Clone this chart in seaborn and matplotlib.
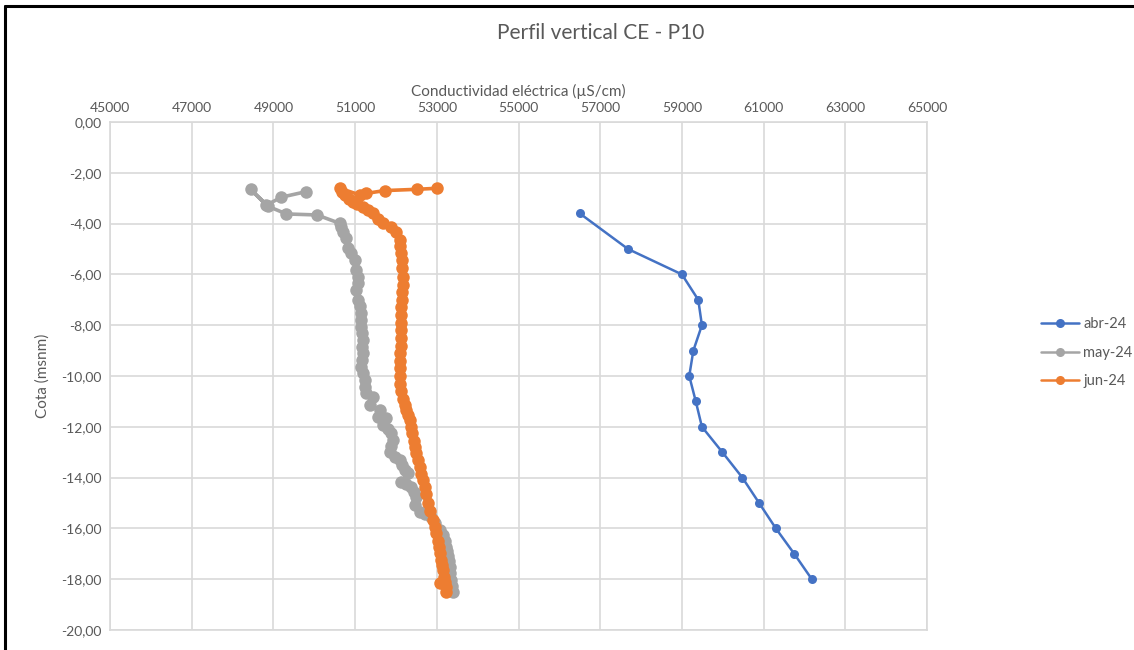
import matplotlib
matplotlib.use("Agg")
import matplotlib.pyplot as plt
import seaborn as sns
import pandas as pd
from matplotlib.lines import Line2D
from matplotlib.ticker import FuncFormatter

# ---- data ----
abr_ce = [56500, 57680, 59000, 59400, 59490, 59280, 59180, 59340, 59490, 59990,
          60480, 60890, 61300, 61750, 62180]
abr_cota = [-3.6, -5.0, -6.0, -7.0, -8.0, -9.0, -10.0, -11.0, -12.0, -13.0,
            -14.0, -15.0, -16.0, -17.0, -18.0]

may_ce = [49807, 49196, 48831, 48440, 48870, 49318, 50069, 50624, 50660, 50705, 50787,
          50827, 50910, 50990, 51032, 51071, 51071, 51032, 51071, 51110, 51154,
          51140, 51154, 51170, 51193, 51180, 51193, 51170, 51154, 51200, 51235,
          51250, 51276, 51438, 51357, 51602, 51560, 51764, 51683, 51800, 51887,
          51927, 51880, 51846, 51968, 52090, 52150, 52213, 52294, 52132, 52250,
          52376, 52450, 52498, 52457, 52580, 52700, 52865, 52960, 53069, 53149,
          53190, 53232, 53260, 53280, 53300, 53313, 53330, 53355, 53375, 53394]
may_cota = [-2.74, -2.96, -3.27, -2.65, -3.32, -3.62, -3.66, -3.99, -4.15, -4.32, -4.58,
            -4.97, -5.17, -5.43, -5.83, -6.10, -6.35, -6.61, -7.01, -7.25, -7.53,
            -7.80, -8.06, -8.30, -8.58, -8.85, -9.11, -9.37, -9.63, -9.90, -10.16,
            -10.42, -10.68, -10.81, -11.14, -11.34, -11.60, -11.67, -11.93, -12.10, -12.26,
            -12.52, -12.75, -12.98, -13.18, -13.31, -13.50, -13.70, -13.83, -14.16, -14.25,
            -14.36, -14.55, -14.75, -15.08, -15.34, -15.45, -15.54, -15.80, -16.06, -16.26,
            -16.50, -16.72, -16.90, -17.10, -17.30, -17.51, -17.75, -18.03, -18.25, -18.49]

jun_ce = [53000, 52512, 51724, 51276, 51113, 50624, 50680, 50760, 50850, 50950,
          51050, 51194, 51316, 51438, 51560, 51683, 51887, 52009, 52091, 52110,
          52132, 52150, 52160, 52172, 52170, 52160, 52140, 52135, 52130, 52132,
          52135, 52130, 52120, 52110, 52100, 52091, 52100, 52110, 52130, 52170,
          52220, 52254, 52300, 52335, 52360, 52400, 52440, 52457, 52500, 52540,
          52580, 52620, 52660, 52702, 52740, 52784, 52840, 52906, 52950, 52988,
          53020, 53050, 53069, 53100, 53130, 53149, 53180, 53200, 53215, 53232, 53080]
jun_cota = [-2.61, -2.65, -2.70, -2.81, -2.87, -2.61, -2.74, -2.88, -3.02, -3.14,
            -3.24, -3.33, -3.46, -3.59, -3.80, -3.99, -4.12, -4.32, -4.65, -4.90,
            -5.17, -5.45, -5.75, -6.09, -6.40, -6.70, -7.00, -7.30, -7.60, -7.90,
            -8.20, -8.50, -8.80, -9.10, -9.40, -9.70, -10.00, -10.30, -10.60, -10.90,
            -11.15, -11.34, -11.55, -11.75, -12.00, -12.25, -12.55, -12.78, -13.05, -13.30,
            -13.57, -13.85, -14.10, -14.36, -14.65, -15.00, -15.30, -15.67, -15.95, -16.19,
            -16.50, -16.75, -16.98, -17.25, -17.45, -17.64, -17.90, -18.10, -18.29, -18.49, -18.16]

series_names = ["abr-24", "may-24", "jun-24"]
colors = ["#4472C4", "#A5A5A5", "#ED7D31"]
x_ticks = list(range(45000, 65001, 2000))
y_ticks = [0, -2, -4, -6, -8, -10, -12, -14, -16, -18, -20]

df = pd.concat([
    pd.DataFrame({"ce": abr_ce, "cota": abr_cota, "serie": "abr-24"}),
    pd.DataFrame({"ce": may_ce, "cota": may_cota, "serie": "may-24"}),
    pd.DataFrame({"ce": jun_ce, "cota": jun_cota, "serie": "jun-24"}),
], ignore_index=True)

# ---- style ----
sns.set_theme(style="white")
plt.rcParams["font.family"] = ["Lato", "DejaVu Sans"]

W, H = 1134, 650
fig = plt.figure(figsize=(W / 100, H / 100), dpi=100)
ax = fig.add_axes([110 / W, 1 - 630 / H, (927 - 110) / W, (630 - 122) / H])

sns.lineplot(data=df, x="ce", y="cota", hue="serie", hue_order=series_names,
             palette=dict(zip(series_names, colors)), sort=False, estimator=None,
             marker="o", markersize=6.5, markeredgewidth=0, linewidth=1.8,
             ax=ax, legend=False, zorder=3)
# dense profiles: bigger markers so the band looks continuous
for ln in ax.lines:
    if ln.get_label() != "_child0" and len(ln.get_xdata()) > 20:
        ln.set_markersize(9.0)
        ln.set_linewidth(2.6)

ax.set_xlim(45000, 65000)
ax.set_ylim(-20, 0)
ax.set_xticks(x_ticks)
ax.set_yticks(y_ticks)
ax.xaxis.tick_top()
ax.xaxis.set_label_position("top")
ax.yaxis.set_major_formatter(FuncFormatter(lambda v, p: f"{v:.2f}".replace(".", ",")))
ax.tick_params(axis="both", length=0, labelsize=10, labelcolor="#595959", pad=6)
ax.grid(True, color="#D9D9D9", linewidth=1.2)
for s in ax.spines.values():
    s.set_color("#D9D9D9")
    s.set_linewidth(1.2)

ax.set_xlabel("Conductividad eléctrica (µS/cm)", fontsize=11, color="#595959", labelpad=4)
ax.set_ylabel("Cota (msnm)", fontsize=11, color="#595959", labelpad=8)
fig.text(601 / W, 1 - 33 / H, "Perfil vertical CE - P10", ha="center", va="center",
         fontsize=15, color="#595959")

handles = [Line2D([0], [0], color=c, marker="o", markersize=6.5, markeredgewidth=0,
                  linewidth=1.8) for c in colors]
fig.legend(handles, series_names, loc="upper left",
           bbox_to_anchor=(1028 / W, 1 - 304 / H), frameon=False, fontsize=10.5,
           labelcolor="#595959", handlelength=2.6, handletextpad=0.3, labelspacing=1.0)

# screenshot frame
fig.add_artist(Line2D([5 / W, 5 / W], [0, 1 - 6 / H], color="black", linewidth=2.2,
                      transform=fig.transFigure))
fig.add_artist(Line2D([5 / W, 1], [1 - 6 / H, 1 - 6 / H], color="black", linewidth=2.2,
                      transform=fig.transFigure))

fig.savefig("out.png", dpi=100, facecolor="white")
